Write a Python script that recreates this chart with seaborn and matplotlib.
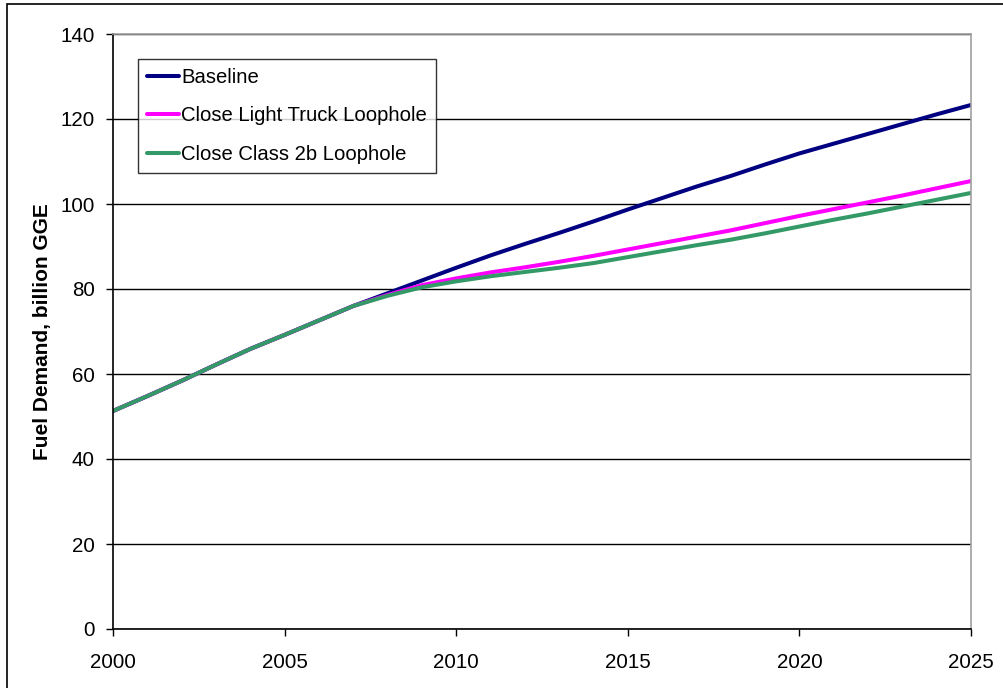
import matplotlib
matplotlib.use("Agg")
import matplotlib.pyplot as plt
from matplotlib.patches import Rectangle
import seaborn as sns
import pandas as pd

years = list(range(2000, 2026))
baseline = [51.3, 54.8, 58.4, 62.2, 65.9, 69.2, 72.6, 76.0, 79.0, 82.0,
            85.0, 87.9, 90.6, 93.2, 95.9, 98.7, 101.4, 104.1, 106.6, 109.3,
            111.9, 114.2, 116.5, 118.8, 121.1, 123.3]
light_truck = [51.3, 54.8, 58.4, 62.2, 65.9, 69.2, 72.6, 76.0, 78.6, 80.9,
               82.5, 83.9, 85.1, 86.4, 87.8, 89.3, 90.8, 92.3, 93.8, 95.5,
               97.2, 98.8, 100.4, 102.0, 103.7, 105.4]
class2b = [51.3, 54.8, 58.4, 62.2, 65.9, 69.2, 72.6, 76.0, 78.4, 80.4,
           81.8, 83.0, 84.0, 85.0, 86.1, 87.5, 88.9, 90.3, 91.6, 93.1,
           94.7, 96.3, 97.8, 99.4, 101.0, 102.6]
series_names = ["Baseline", "Close Light Truck Loophole", "Close Class 2b Loophole"]
colors = ["#000080", "#FF00FF", "#339966"]
y_ticks = [0, 20, 40, 60, 80, 100, 120, 140]
x_ticks = [2000, 2005, 2010, 2015, 2020, 2025]

df = pd.concat([
    pd.DataFrame({"Year": years, "Value": vals, "Scenario": name})
    for name, vals in zip(series_names, [baseline, light_truck, class2b])
])

sns.set_style("white")
plt.rcParams["font.family"] = ["Liberation Sans", "DejaVu Sans"]
plt.rcParams["text.color"] = "black"
plt.rcParams["axes.labelcolor"] = "black"
plt.rcParams["xtick.color"] = "black"
plt.rcParams["ytick.color"] = "black"

fig = plt.figure(figsize=(10.04, 6.88), dpi=100)
ax = fig.add_axes([113/1004, 1-629/688, (971-113)/1004, (629-34)/688])

sns.lineplot(data=df, x="Year", y="Value", hue="Scenario", hue_order=series_names,
             palette=colors, linewidth=2.9, ax=ax, legend=True)

ax.set_xlim(2000, 2025)
ax.set_ylim(0, 140)
ax.set_xticks(x_ticks)
ax.set_yticks(y_ticks)
ax.set_xticklabels([str(v) for v in x_ticks], fontsize=14.8)
ax.set_yticklabels([str(v) for v in y_ticks], fontsize=14.8)
ax.tick_params(axis="both", direction="out", length=5, width=1, colors="black",
               left=True, bottom=True)
ax.tick_params(axis="y", pad=8)
ax.tick_params(axis="x", pad=12)
ax.grid(axis="y", color="black", linewidth=1)
ax.grid(axis="x", visible=False)
ax.set_axisbelow(True)

for side in ["left", "bottom"]:
    ax.spines[side].set_color("black")
    ax.spines[side].set_linewidth(1.2)
for side in ["top", "right"]:
    ax.spines[side].set_visible(True)
    ax.spines[side].set_color("#A0A0A0")
    ax.spines[side].set_linewidth(1.2)

ax.set_xlabel("")
ax.set_ylabel("Fuel Demand, billion GGE", fontsize=15, fontweight="bold",
              color="black", labelpad=6)

leg = ax.legend(loc="upper left", bbox_to_anchor=(25/858, (629-59)/595),
                borderaxespad=0, fontsize=14.6, frameon=True, fancybox=False,
                handlelength=1.55, handletextpad=0.12, labelspacing=0.95,
                borderpad=0.45)
leg.get_frame().set_edgecolor("black")
leg.get_frame().set_linewidth(1)
for line in leg.get_lines():
    line.set_linewidth(2.9)
for t in leg.get_texts():
    t.set_color("black")

border = Rectangle((7/1004, -0.5), 2, 0.5 + 1 - 4/688, transform=fig.transFigure,
                   fill=False, edgecolor="black", linewidth=1.2, clip_on=False)
fig.patches.append(border)

fig.savefig("out.png", dpi=100)
